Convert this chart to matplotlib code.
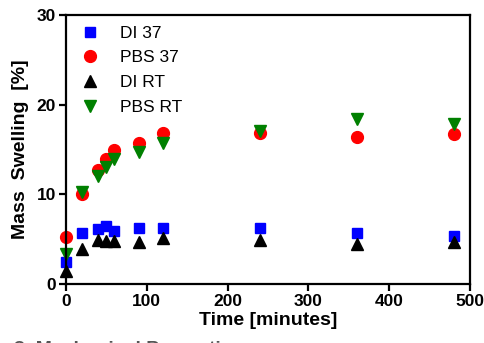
import numpy as np
import matplotlib
matplotlib.use("Agg")
import matplotlib.pyplot as plt

plt.rcParams['font.family'] = ['Liberation Sans', 'DejaVu Sans']

# time points (minutes)
time = [0, 20, 40, 50, 60, 90, 120, 240, 360, 480]

di_37 = [2.5, 5.65, 6.1, 6.5, 5.9, 6.3, 6.2, 6.2, 5.65, 5.3]
pbs_37 = [5.2, 10.0, 12.7, 13.9, 14.9, 15.75, 16.9, 16.8, 16.4, 16.7]
di_rt = [1.4, 3.9, 4.9, 4.8, 4.8, 4.65, 5.1, 4.9, 4.5, 4.7]
pbs_rt = [3.4, 10.3, 12.0, 13.1, 13.9, 14.75, 15.75, 17.1, 18.4, 17.8]

labels = ['DI 37', 'PBS 37', 'DI RT', 'PBS RT']

fig = plt.figure(figsize=(4.85, 3.43), dpi=100)
ax = fig.add_axes([0.136, 0.172, 0.833, 0.784])

ax.plot(time, di_37, 's', color='#0000ff', ms=7.5, label=labels[0], clip_on=False)
ax.plot(time, pbs_37, 'o', color='#ff0000', ms=8.5, label=labels[1], clip_on=False)
ax.plot(time, di_rt, '^', color='black', ms=8, label=labels[2], clip_on=False)
ax.plot(time, pbs_rt, 'v', color='#008000', ms=8, label=labels[3], clip_on=False)

ax.set_xlim(0, 500)
ax.set_ylim(0, 30)
ax.set_xticks(np.arange(0, 501, 100))
ax.set_yticks([0, 10, 20, 30])

for s in ax.spines.values():
    s.set_linewidth(1.6)
ax.tick_params(direction='out', length=5, width=1.6, labelsize=12.5, pad=2)
for t in ax.get_xticklabels() + ax.get_yticklabels():
    t.set_fontweight('bold')

ax.set_xlabel('Time [minutes]', fontsize=14, fontweight='bold', labelpad=2)
ax.set_ylabel('Mass  Swelling  [%]', fontsize=14, fontweight='bold', labelpad=6)

leg = ax.legend(loc='upper left', frameon=False, fontsize=12.5, handletextpad=0.9,
                labelspacing=0.55, borderaxespad=0.2, handlelength=1.6,
                bbox_to_anchor=(0.0, 1.0))

# caption of the next section, cut off by the bottom edge
fig.text(0.028, 0.006, '3. Mechanical Properties', fontsize=14, fontweight='bold',
         color='#555555', va='top', ha='left')

fig.savefig('out.png', dpi=100)
